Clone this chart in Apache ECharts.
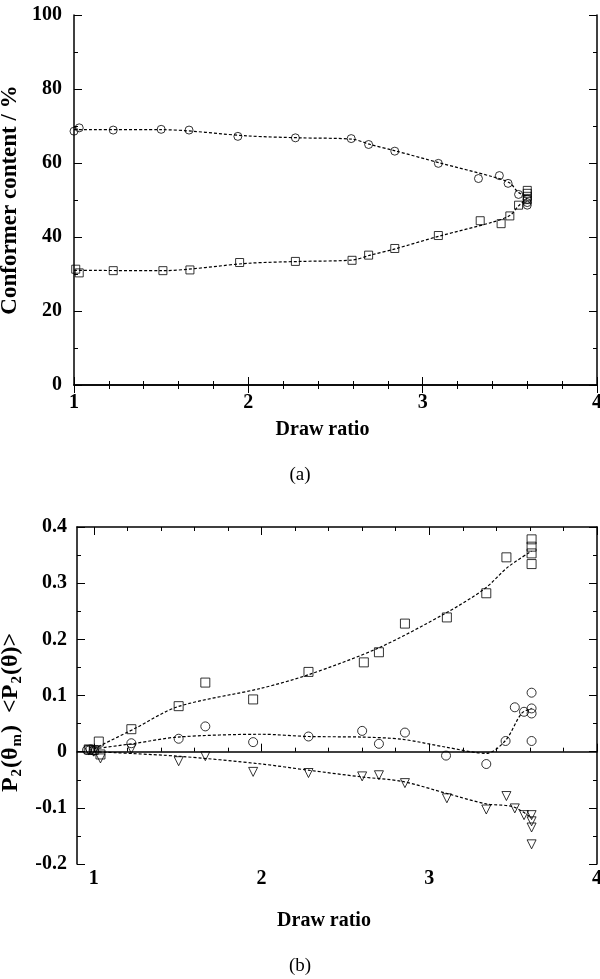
<!DOCTYPE html>
<html>
<head>
<meta charset="utf-8">
<script src="https://cdn.jsdelivr.net/npm/echarts@6/dist/echarts.min.js"></script>
<style>
  html, body { margin: 0; padding: 0; background: #fff; }
  #chart { width: 600px; height: 979px; }
</style>
</head>
<body>
<div id="chart"></div>
<script>
// panel (a): conformer content vs draw ratio
let aCircles = [[1.0, 68.6], [1.03, 69.5], [1.225, 68.9], [1.5, 69.1], [1.66, 68.9], [1.94, 67.2],
  [2.27, 66.8], [2.59, 66.6], [2.69, 65.0], [2.84, 63.2], [3.09, 59.9], [3.32, 55.8], [3.44, 56.6],
  [3.49, 54.5], [3.55, 51.5], [3.6, 50.2], [3.6, 49.3], [3.6, 48.6]];
let aSquares = [[1.01, 31.3], [1.03, 30.3], [1.225, 30.9], [1.51, 30.9], [1.665, 31.1], [1.95, 33.1],
  [2.27, 33.4], [2.595, 33.7], [2.69, 35.1], [2.84, 36.9], [3.09, 40.4], [3.33, 44.4], [3.45, 43.6],
  [3.5, 45.7], [3.55, 48.6], [3.6, 52.6], [3.6, 51.8], [3.6, 51.0], [3.6, 50.1]];
let aCircleFit = [[1.0, 69.0], [1.5, 69.0], [2.0, 67.3], [2.3, 66.8], [2.6, 66.4], [2.7, 65.0],
  [2.85, 63.2], [3.1, 60.0], [3.4, 56.3], [3.5, 54.6], [3.55, 52.0], [3.6, 51.0]];
let aSquareFit = [[1.0, 31.0], [1.5, 30.9], [2.0, 32.9], [2.3, 33.4], [2.6, 33.8], [2.7, 35.1],
  [2.85, 36.9], [3.1, 40.3], [3.4, 44.0], [3.5, 45.8], [3.55, 48.4], [3.6, 50.5]];

// panel (b): orientation functions vs draw ratio
let bSquares = [[0.97, 0.004], [1.0, 0.003], [1.03, 0.018], [1.04, -0.005], [1.224, 0.040],
  [1.506, 0.081], [1.665, 0.123], [1.95, 0.093], [2.28, 0.142], [2.61, 0.159], [2.70, 0.177],
  [2.855, 0.228], [3.105, 0.239], [3.34, 0.282], [3.46, 0.346], [3.61, 0.378], [3.61, 0.365],
  [3.61, 0.353], [3.61, 0.334]];
let bCircles = [[0.96, 0.003], [0.98, 0.004], [1.0, 0.002], [1.224, 0.015], [1.506, 0.023],
  [1.665, 0.045], [1.95, 0.017], [2.28, 0.027], [2.60, 0.037], [2.70, 0.014], [2.855, 0.034],
  [3.10, -0.007], [3.34, -0.022], [3.455, 0.019], [3.51, 0.079], [3.565, 0.071], [3.61, 0.105],
  [3.61, 0.077], [3.61, 0.068], [3.61, 0.019]];
let bTriangles = [[0.97, 0.002], [1.0, 0.0], [1.04, -0.012], [1.224, 0.005], [1.506, -0.017],
  [1.665, -0.008], [1.95, -0.036], [2.28, -0.038], [2.60, -0.044], [2.70, -0.042], [2.855, -0.056],
  [3.105, -0.083], [3.34, -0.103], [3.46, -0.079], [3.51, -0.101], [3.565, -0.113], [3.61, -0.113],
  [3.61, -0.124], [3.61, -0.135], [3.61, -0.165]];
let bSquareFit = [[1.0, 0.005], [1.25, 0.042], [1.5, 0.080], [2.0, 0.113], [2.28, 0.137],
  [2.7, 0.185], [3.1, 0.247], [3.33, 0.290], [3.47, 0.329], [3.61, 0.357]];
let bCircleFit = [[1.0, 0.005], [1.25, 0.015], [1.5, 0.026], [2.0, 0.031], [2.28, 0.027],
  [2.6, 0.026], [2.84, 0.022], [3.1, 0.008], [3.34, -0.003], [3.455, 0.020], [3.55, 0.068],
  [3.61, 0.077]];
let bTriangleFit = [[1.0, 0.0], [1.5, -0.008], [2.0, -0.022], [2.28, -0.033], [2.6, -0.045],
  [2.84, -0.053], [3.1, -0.074], [3.34, -0.093], [3.5, -0.098], [3.61, -0.118]];

let xTicksB = [1, 2, 3, 4];
let xMinorB = [1.2, 1.4, 1.6, 1.8, 2.2, 2.4, 2.6, 2.8, 3.2, 3.4, 3.6, 3.8];

let serif = 'Liberation Serif';
let axisLine = {lineStyle: {color: '#000', width: 1.5}};
let labelStyle = {color: '#000', fontFamily: serif, fontWeight: 'bold', fontSize: 20};
let xNameStyle = {color: '#000', fontFamily: serif, fontWeight: 'bold', fontSize: 20, padding: [0, 26, 0, 0]};
let yNameStyle = {color: '#000', fontFamily: serif, fontWeight: 'bold', fontSize: 23};
let captionStyle = {fontFamily: serif, fontWeight: 'normal', fontSize: 19, color: '#000'};

function frameX(grid, min, opts) {
  return Object.assign({
    type: 'value', gridIndex: grid, min: min, max: 4,
    axisLine: axisLine, splitLine: {show: false},
    axisTick: {inside: true, length: 8, lineStyle: {color: '#000'}},
    axisLabel: {show: false}
  }, opts);
}

function frameY(grid, min, max, interval, opts) {
  return Object.assign({
    type: 'value', gridIndex: grid, min: min, max: max, interval: interval,
    axisLine: axisLine, splitLine: {show: false},
    axisTick: {inside: true, length: 8, lineStyle: {color: '#000'}},
    minorTick: {show: true, splitNumber: 2, length: 4, lineStyle: {color: '#000'}},
    axisLabel: {show: false}
  }, opts);
}

function markers(data, symbol, size, xi, yi, rot) {
  return {
    type: 'scatter', data: data, symbol: symbol, symbolSize: size, symbolRotate: rot || 0,
    xAxisIndex: xi, yAxisIndex: yi, z: 3,
    itemStyle: {color: 'rgba(255,255,255,0)', borderColor: '#000', borderWidth: 1}
  };
}

function fitLine(data, xi, yi) {
  return {
    type: 'line', data: data, smooth: 0.3, showSymbol: false, symbol: 'none',
    xAxisIndex: xi, yAxisIndex: yi, z: 2,
    lineStyle: {color: '#000', width: 1.2, type: [3, 2]}
  };
}

let minorA = {show: true, splitNumber: 5, length: 4, lineStyle: {color: '#000'}};

let chart = echarts.init(document.getElementById('chart'));
chart.setOption({
  animation: false,
  backgroundColor: '#fff',
  title: [
    {text: '(a)', left: 'center', top: 461, textStyle: captionStyle},
    {text: '(b)', left: 'center', top: 952, textStyle: captionStyle}
  ],
  grid: [
    {left: 74, top: 15, width: 523, height: 370, outerBoundsMode: 'none'},
    {left: 77, top: 527, width: 520, height: 337, outerBoundsMode: 'none'}
  ],
  xAxis: [
    frameX(0, 1, {
      interval: 1, position: 'bottom', minorTick: minorA,
      axisLabel: Object.assign({show: true, margin: 8}, labelStyle),
      name: 'Draw ratio', nameLocation: 'middle', nameGap: 35, nameTextStyle: xNameStyle
    }),
    frameX(0, 1, {interval: 1, position: 'top', minorTick: minorA}),
    frameX(1, 0.9, {
      position: 'bottom',
      axisTick: {inside: true, length: 8, customValues: xTicksB, lineStyle: {color: '#000'}},
      axisLabel: Object.assign({show: true, margin: 5, customValues: xTicksB}, labelStyle),
      name: 'Draw ratio', nameLocation: 'middle', nameGap: 47, nameTextStyle: xNameStyle
    }),
    frameX(1, 0.9, {
      position: 'bottom', axisLine: {show: false},
      axisTick: {inside: true, length: 4, customValues: xMinorB, lineStyle: {color: '#000'}}
    }),
    frameX(1, 0.9, {
      position: 'top',
      axisTick: {inside: true, length: 8, customValues: xTicksB, lineStyle: {color: '#000'}}
    }),
    frameX(1, 0.9, {
      position: 'top', axisLine: {show: false},
      axisTick: {inside: true, length: 4, customValues: xMinorB, lineStyle: {color: '#000'}}
    })
  ],
  yAxis: [
    frameY(0, 0, 100, 20, {
      position: 'left',
      axisLabel: Object.assign({show: true, margin: 12}, labelStyle),
      name: 'Conformer content / %', nameLocation: 'middle', nameGap: 44, nameTextStyle: yNameStyle
    }),
    frameY(0, 0, 100, 20, {position: 'right'}),
    frameY(1, -0.2, 0.4, 0.1, {
      position: 'left',
      axisLabel: Object.assign({
        show: true, margin: 10,
        formatter: function (v) { return String(+v.toFixed(1)); }
      }, labelStyle),
      name: '{m|P}{s|2}{m|(θ}{s|m}{m|)  <P}{s|2}{m|(θ)>}', nameLocation: 'middle', nameGap: 47,
      nameTextStyle: Object.assign({}, yNameStyle, {
        padding: [0, 34, 0, 0],
        rich: {
          m: {fontFamily: serif, fontWeight: 'bold', fontSize: 24, color: '#000'},
          s: {fontFamily: serif, fontWeight: 'bold', fontSize: 15, color: '#000', padding: [12, 1, 0, 1]}
        }
      })
    }),
    frameY(1, -0.2, 0.4, 0.1, {position: 'right'})
  ],
  series: [
    fitLine(aCircleFit, 0, 0),
    fitLine(aSquareFit, 0, 0),
    markers(aCircles, 'circle', 8, 0, 0),
    markers(aSquares, 'rect', 8, 0, 0),
    fitLine(bSquareFit, 2, 2),
    fitLine(bCircleFit, 2, 2),
    fitLine(bTriangleFit, 2, 2),
    markers(bSquares, 'rect', 9, 2, 2),
    markers(bCircles, 'circle', 9, 2, 2),
    markers(bTriangles, 'triangle', 9, 2, 2, 180)
  ]
});
</script>
</body>
</html>
